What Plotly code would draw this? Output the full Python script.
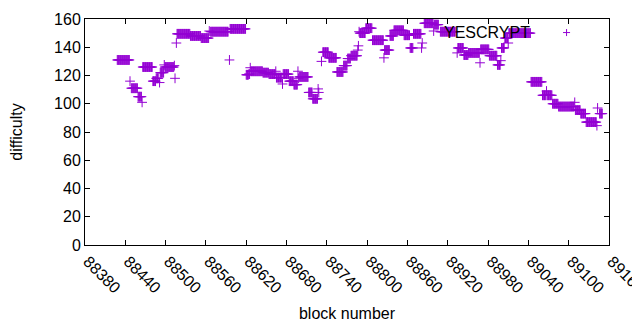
import plotly.graph_objects as go

# Runs of constant difficulty: (first block, last block, difficulty)
run_start = [88428, 88447, 88449, 88459, 88465, 88466, 88481, 88486, 88491, 88492,
             88498, 88499, 88513, 88514, 88516, 88517, 88537, 88553, 88565, 88567,
             88595, 88596, 88620, 88621, 88624, 88626, 88627, 88645, 88654, 88664,
             88665, 88674, 88675, 88684, 88691, 88697, 88698, 88699, 88713, 88719,
             88727, 88728, 88732, 88734, 88743, 88755, 88765, 88771, 88776, 88786,
             88787, 88788, 88789, 88798, 88808, 88825, 88826, 88834, 88840, 88855,
             88864, 88869, 88870, 88881, 88882, 88885, 88899, 88900, 88909, 88934,
             88935, 88944, 88951, 88968, 88969, 88982, 88994, 88999, 89000, 89005,
             89010, 89011, 89044, 89061, 89067, 89068, 89076, 89085, 89109, 89110,
             89118, 89126, 89142, 89143, 89146]
run_end = [88446, 88447, 88458, 88464, 88465, 88480, 88485, 88489, 88491, 88497,
           88498, 88512, 88513, 88514, 88516, 88536, 88552, 88564, 88565, 88593,
           88595, 88619, 88620, 88623, 88625, 88626, 88644, 88653, 88663, 88664,
           88673, 88674, 88683, 88690, 88696, 88697, 88698, 88712, 88718, 88726,
           88727, 88728, 88732, 88742, 88754, 88764, 88770, 88775, 88785, 88786,
           88787, 88788, 88797, 88807, 88824, 88825, 88833, 88839, 88854, 88863,
           88868, 88869, 88880, 88881, 88882, 88898, 88899, 88906, 88931, 88934,
           88943, 88950, 88967, 88968, 88981, 88993, 88998, 88999, 89004, 89009,
           89010, 89043, 89060, 89066, 89067, 89075, 89084, 89108, 89109, 89117,
           89125, 89141, 89142, 89143, 89150]
run_value = [131, 116, 111, 105, 101, 126, 116, 118, 115, 122,
             127.5, 126, 127, 118, 143, 149.5, 148, 146.5, 151.5, 151,
             131, 153, 120.5, 120.5, 121, 125.5, 123, 122, 121, 123,
             118.5, 114, 121, 116, 113.5, 123, 118, 119, 108, 103.5,
             110.5, 108, 130, 136.5, 132.5, 122.5, 127, 132, 134, 138,
             141, 151, 150, 153.5, 145, 132.5, 138, 148, 152, 148.5,
             139.5, 149.5, 149.5, 139.5, 143, 157, 151.5, 156, 151, 136,
             139.5, 134.5, 136, 129, 138.5, 134, 127.5, 130.5, 139.5, 146.5,
             143, 150, 115.5, 106, 109, 106, 100, 98, 101, 95.5,
             93, 87, 84.5, 97, 93]

x_ticks = [88380, 88440, 88500, 88560, 88620, 88680, 88740, 88800,
           88860, 88920, 88980, 89040, 89100, 89160]
y_ticks = [0, 20, 40, 60, 80, 100, 120, 140, 160]

blocks, diff = [], []
for s, e, v in zip(run_start, run_end, run_value):
    for b in range(s, e + 1):
        blocks.append(b)
        diff.append(v)

COLOR = "#9400d3"
FONT = "Liberation Sans"
FS = 16

fig = go.Figure()
fig.add_trace(go.Scatter(
    x=blocks, y=diff, mode="markers", name="YESCRYPT",
    marker=dict(symbol="cross-thin", size=7, line=dict(color=COLOR, width=1)),
    showlegend=False,
))

axis_common = dict(
    showline=True, linecolor="black", linewidth=1, mirror="allticks",
    ticks="inside", ticklen=5, tickcolor="black", showgrid=False, zeroline=False,
    tickfont=dict(family=FONT, size=FS, color="black"), automargin=False,
)
fig.update_xaxes(range=[88380, 89160], tickvals=x_ticks, ticktext=[str(t) for t in x_ticks],
                 tickangle=45, ticklabeloverflow="allow", ticklabelshift=3,
                 title=dict(text="block number", font=dict(family=FONT, size=FS), standoff=13),
                 **axis_common)
fig.update_yaxes(range=[0, 160], tickvals=y_ticks, ticktext=[str(t) for t in y_ticks],
                 title=dict(text="difficulty", font=dict(family=FONT, size=FS), standoff=28),
                 **axis_common)

# gnuplot-style key: text then sample point, top right
fig.add_annotation(xref="paper", yref="paper", x=0.854, y=0.94, xanchor="right", yanchor="middle",
                   text="YESCRYPT", showarrow=False, font=dict(family=FONT, size=FS, color="black"))
kx, ky = 0.919, 0.94
fig.add_shape(type="line", xref="paper", yref="paper", x0=kx - 0.0067, x1=kx + 0.0067, y0=ky, y1=ky,
              line=dict(color=COLOR, width=1))
fig.add_shape(type="line", xref="paper", yref="paper", x0=kx, x1=kx, y0=ky - 0.0155, y1=ky + 0.0155,
              line=dict(color=COLOR, width=1))

# page body has an 8px margin; size the figure so the plot box lands where the reference has it
fig.update_layout(
    width=624, height=314,
    margin=dict(l=76.5, r=22.5, t=10.5, b=77),
    paper_bgcolor="white", plot_bgcolor="white",
    font=dict(family=FONT, size=FS, color="black"),
)
fig.write_html("out.html")
